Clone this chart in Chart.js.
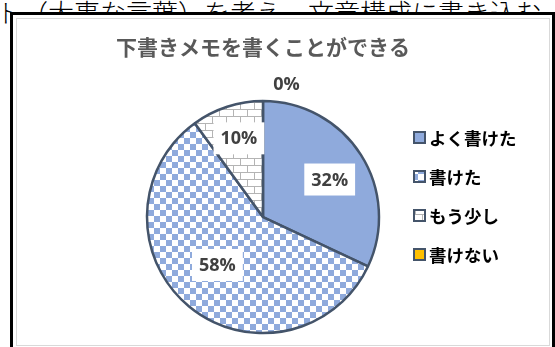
<!DOCTYPE html>
<html>
<head>
<meta charset="utf-8">
<script src="https://cdn.jsdelivr.net/npm/chart.js@4.4.1/dist/chart.umd.min.js"></script>
<style>
  html, body { margin: 0; padding: 0; background: #fff; }
  body { width: 555px; height: 347px; overflow: hidden; position: relative; }
  #bgText { position: absolute; left: -4px; top: -1px; font: 26px/1 "Noto Sans CJK JP", sans-serif; font-weight: 300; color: #000; white-space: nowrap; }
  #frame { position: absolute; left: 10px; top: 12px; width: 545px; height: 340px; border: 3px solid #000; box-sizing: border-box; background: #fff; }
  #chartBorder { position: absolute; left: 16px; top: 18px; width: 534px; height: 328px; border: 1px solid #d9d9d9; box-sizing: border-box; }
  #wrap { position: absolute; left: 16px; top: 18px; width: 534px; height: 328px; }
</style>
</head>
<body>
<div id="bgText">ト（大事な言葉）を考え、文章構成に書き込む。</div>
<div id="frame"></div>
<div id="chartBorder"></div>
<div id="wrap"><canvas id="pieChart"></canvas></div>

<script>
const chartTitle = '下書きメモを書くことができる';
const categories = ['よく書けた', '書けた', 'もう少し', '書けない'];
const percentages = [32, 58, 10, 0];

// where each % label sits: fraction of radius, extra angle (deg), white box or not
const labelPlace = [
  { r: 0.66, a: 3, box: true },
  { r: 0.57, a: 4, box: true },
  { r: 0.71, a: 1, box: true },
  { r: 1.17, a: 10, box: false }
];

const BLUE = '#8faadc';
const EDGE = '#44546a';

function checkerPattern() {
  const c = document.createElement('canvas');
  c.width = 12; c.height = 12;
  const x = c.getContext('2d');
  x.fillStyle = '#fff';
  x.fillRect(0, 0, 12, 12);
  x.fillStyle = BLUE;
  x.fillRect(0, 0, 6, 6);
  x.fillRect(6, 6, 6, 6);
  return x.createPattern(c, 'repeat');
}

function brickPattern() {
  const c = document.createElement('canvas');
  c.width = 14; c.height = 14;
  const x = c.getContext('2d');
  x.fillStyle = '#fff';
  x.fillRect(0, 0, 14, 14);
  x.fillStyle = '#b4b4b4';
  x.fillRect(0, 0, 14, 1);
  x.fillRect(0, 7, 14, 1);
  x.fillRect(0, 0, 1, 7);
  x.fillRect(7, 7, 1, 7);
  return x.createPattern(c, 'repeat');
}

const fills = [BLUE, checkerPattern(), brickPattern(), '#ffc000'];

// percent labels with white boxes
const pctLabels = {
  id: 'pctLabels',
  afterDatasetsDraw(chart) {
    const ctx = chart.ctx;
    const arcs = chart.getDatasetMeta(0).data;
    ctx.save();
    ctx.font = 'bold 18px "Open Sans", sans-serif';
    ctx.textAlign = 'center';
    ctx.textBaseline = 'middle';
    arcs.forEach((arc, i) => {
      const p = arc.getProps(['x', 'y', 'startAngle', 'endAngle', 'outerRadius'], true);
      const place = labelPlace[i];
      const mid = (p.startAngle + p.endAngle) / 2 + place.a * Math.PI / 180;
      const lx = p.x + Math.cos(mid) * p.outerRadius * place.r;
      const ly = p.y + Math.sin(mid) * p.outerRadius * place.r;
      const txt = percentages[i] + '%';
      if (place.box) {
        const w = ctx.measureText(txt).width + 14;
        ctx.fillStyle = '#fff';
        ctx.fillRect(lx - w / 2, ly - 16, w, 32);
      }
      ctx.fillStyle = '#404040';
      ctx.fillText(txt, lx, ly + 1);
    });
    ctx.restore();
  }
};

// legend on the right
const sideLegend = {
  id: 'sideLegend',
  afterDraw(chart) {
    const ctx = chart.ctx;
    const bx = 398, y0 = 119, step = 39;
    ctx.save();
    ctx.font = 'bold 17.5px "Noto Sans CJK JP", sans-serif';
    ctx.textBaseline = 'middle';
    chart.data.labels.forEach((lab, i) => {
      const y = y0 + i * step;
      ctx.fillStyle = chart.data.datasets[0].backgroundColor[i];
      ctx.fillRect(bx, y - 5, 11, 11);
      ctx.strokeStyle = EDGE;
      ctx.lineWidth = 2;
      ctx.strokeRect(bx, y - 5, 11, 11);
      ctx.fillStyle = '#000';
      ctx.fillText(lab, bx + 15, y + 1);
    });
    ctx.restore();
  }
};

new Chart(document.getElementById('pieChart'), {
  type: 'pie',
  data: {
    labels: categories,
    datasets: [{
      data: percentages,
      backgroundColor: fills,
      borderColor: EDGE,
      borderWidth: 2.5,
      radius: 116
    }]
  },
  options: {
    responsive: true,
    maintainAspectRatio: false,
    animation: false,
    layout: { padding: { left: 0, right: 40, top: 0, bottom: 8 } },
    plugins: {
      legend: { display: false },
      tooltip: { enabled: false },
      title: {
        display: true,
        text: chartTitle,
        color: '#595959',
        font: { family: '"Noto Sans CJK JP", sans-serif', size: 21, weight: 'bold' },
        padding: { top: 16, bottom: 37 }
      }
    }
  },
  plugins: [pctLabels, sideLegend]
});
</script>
</body>
</html>
